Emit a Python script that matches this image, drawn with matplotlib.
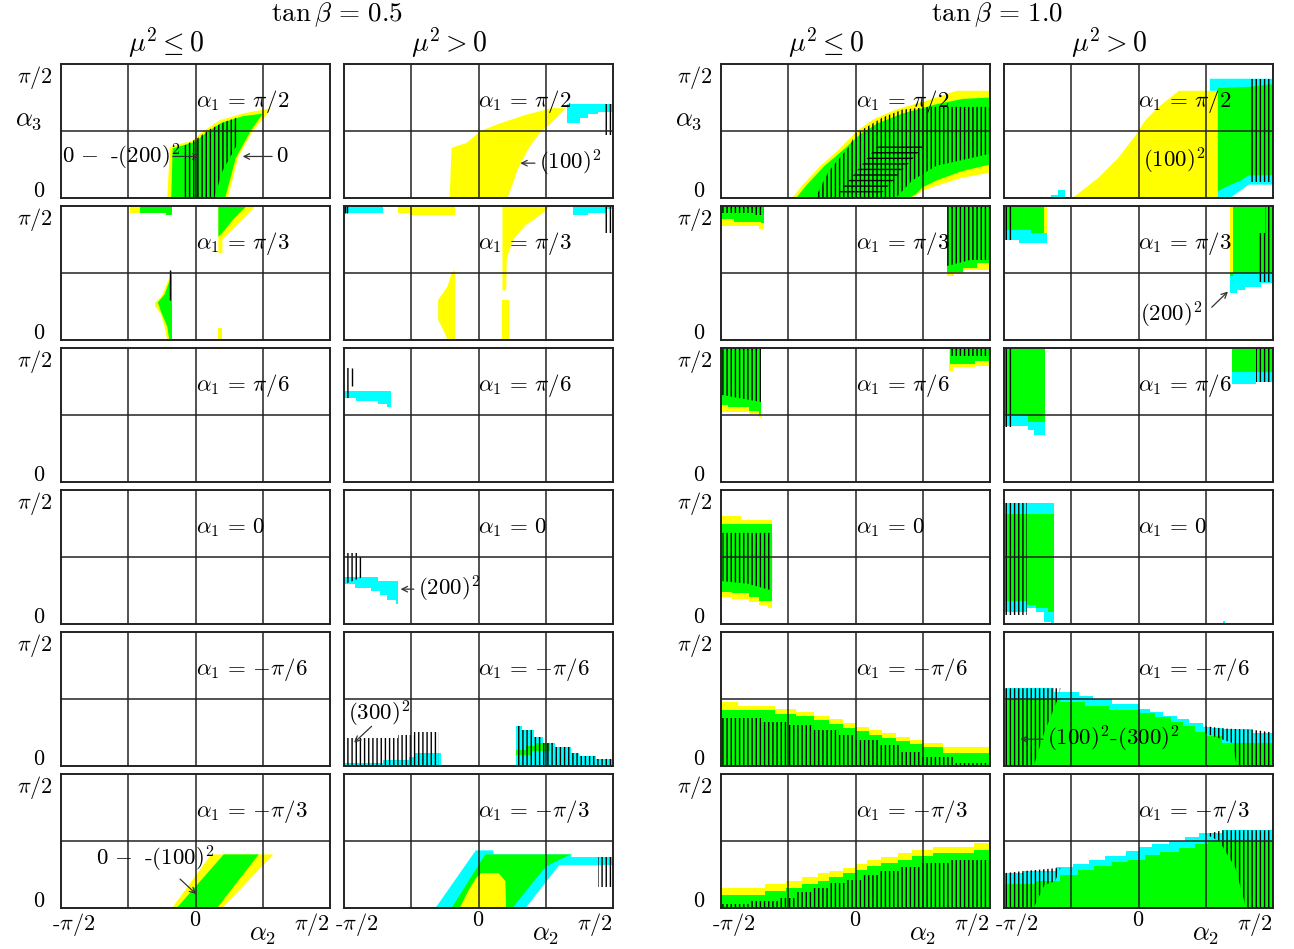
import matplotlib
matplotlib.use('Agg')
import matplotlib.pyplot as plt

plt.rcParams['mathtext.fontset'] = 'cm'
plt.rcParams['font.family'] = ['cmr10', 'DejaVu Serif']
plt.rcParams['axes.unicode_minus'] = False
plt.rcParams['hatch.linewidth'] = 1.0

YEL, GRN, CYA = '#ffff00', '#00ff00', '#00ffff'

# coordinates: u = alpha2/(pi/2) in [-1, 1], v = alpha3/(pi/2) in [0, 1]

# ---- tan beta = 0.5, mu^2 <= 0 ----
a05le_pi2_yel = [(-0.21, 0), (-0.19, 0.38), (-0.02, 0.43), (0.06, 0.5), (0.18, 0.58), (0.35, 0.63),
                 (0.56, 0.67), (0.52, 0.61), (0.425, 0.5), (0.32, 0.31), (0.24, 0.0)]
a05le_pi2_grn = [(-0.18, 0), (-0.17, 0.37), (0.0, 0.42), (0.07, 0.48), (0.19, 0.56), (0.35, 0.61),
                 (0.5, 0.63), (0.41, 0.5), (0.3, 0.3), (0.22, 0)]
a05le_pi2_hat = [(-0.1, 0), (-0.1, 0.38), (0.02, 0.45), (0.1, 0.51), (0.22, 0.57), (0.31, 0.6),
                 (0.31, 0.4), (0.2, 0.2), (0.14, 0)]

a05le_pi3_yel1 = [(-0.49, 1), (-0.49, 0.95), (-0.41, 0.95), (-0.41, 1)]
a05le_pi3_grn1 = [(-0.41, 1), (-0.41, 0.95), (-0.22, 0.95), (-0.22, 0.933), (-0.175, 0.933), (-0.175, 1)]
a05le_pi3_yel2 = [(0.17, 1), (0.446, 1), (0.35, 0.9), (0.25, 0.8), (0.2, 0.75), (0.2, 0.65), (0.17, 0.65)]
a05le_pi3_grn2 = [(0.17, 1), (0.38, 1), (0.28, 0.9), (0.2, 0.8), (0.17, 0.77)]
a05le_pi3_yel3 = [(-0.175, 0.52), (-0.2, 0.45), (-0.25, 0.33), (-0.3, 0.28), (-0.3, 0.25), (-0.26, 0.2),
                  (-0.23, 0.1), (-0.21, 0.0), (-0.175, 0)]
a05le_pi3_grn3 = [(-0.175, 0.52), (-0.185, 0.46), (-0.23, 0.34), (-0.28, 0.28), (-0.26, 0.22),
                  (-0.21, 0.1), (-0.195, 0), (-0.175, 0)]
a05le_pi3_yel4 = [(0.17, 0), (0.2, 0), (0.2, 0.09), (0.17, 0.09)]

a05le_mpi3_yel = [(-0.175, 0), (0.117, 0.4), (0.578, 0.4), (0.2, 0)]
a05le_mpi3_grn = [(-0.14, 0), (0.21, 0.4), (0.47, 0.4), (0.16, 0)]

# ---- tan beta = 0.5, mu^2 > 0 ----
a05gt_pi2_yel = [(-0.215, 0), (-0.2, 0.375), (-0.09, 0.41), (0.015, 0.5), (0.14, 0.55), (0.35, 0.62),
                 (0.54, 0.67), (0.65, 0.67), (0.54, 0.56), (0.46, 0.49), (0.385, 0.39), (0.34, 0.31),
                 (0.29, 0.21), (0.26, 0.12), (0.215, 0)]
a05gt_pi2_cya = [(0.66, 0.7), (1.0, 0.7), (1.0, 0.64), (0.89, 0.64), (0.89, 0.63), (0.815, 0.63),
                 (0.815, 0.6), (0.754, 0.6), (0.754, 0.56), (0.66, 0.56)]
a05gt_pi2_hat = [(0.94, 0.47), (0.94, 0.7), (1.0, 0.7), (1.0, 0.47)]

a05gt_pi3_cya1 = [(-1, 1), (-0.71, 1), (-0.71, 0.95), (-1, 0.95)]
a05gt_pi3_yel1 = [(-0.6, 1), (-0.6, 0.95), (-0.51, 0.95), (-0.51, 0.93), (-0.175, 0.93), (-0.175, 1)]
a05gt_pi3_yel2 = [(0.178, 1), (0.54, 1), (0.48, 0.95), (0.415, 0.9), (0.354, 0.86), (0.308, 0.81),
                  (0.26, 0.75), (0.23, 0.67), (0.21, 0.6), (0.206, 0.37), (0.178, 0.37)]
a05gt_pi3_yel3 = [(0.178, 0.3), (0.225, 0.3), (0.225, 0), (0.178, 0)]
a05gt_pi3_yel4 = [(-0.175, 0.52), (-0.2, 0.5), (-0.23, 0.4), (-0.3, 0.3), (-0.3, 0.15), (-0.25, 0.05),
                  (-0.23, 0), (-0.175, 0)]
a05gt_pi3_cya2 = [(0.70, 1), (0.70, 0.935), (0.815, 0.935), (0.815, 0.95), (0.954, 0.95), (0.954, 0.98),
                  (1, 0.98), (1, 1)]
a05gt_pi3_hat = [(0.94, 0.8), (0.94, 1), (1, 1), (1, 0.8)]

a05gt_pi6_cya = [(-1, 0.68), (-0.65, 0.68), (-0.65, 0.556), (-0.68, 0.556), (-0.68, 0.58), (-0.75, 0.58),
                 (-0.75, 0.605), (-0.91, 0.605), (-0.91, 0.626), (-1, 0.626)]
a05gt_pi6_hat = [(-0.995, 0.63), (-0.995, 0.85), (-0.95, 0.85), (-0.95, 0.63)]

a05gt_0_cya = [(-1, 0.35), (-0.75, 0.35), (-0.75, 0.32), (-0.6, 0.32), (-0.6, 0.15), (-0.615, 0.15),
               (-0.615, 0.18), (-0.68, 0.18), (-0.68, 0.22), (-0.73, 0.22), (-0.73, 0.25), (-0.8, 0.25),
               (-0.8, 0.27), (-0.92, 0.27), (-0.92, 0.30), (-1, 0.30)]
a05gt_0_hat = [(-0.995, 0.3), (-0.995, 0.53), (-0.9, 0.53), (-0.9, 0.5), (-0.86, 0.5), (-0.86, 0.35)]

a05gt_mpi6_cya1 = [(-1, 0), (-1, 0.02), (-0.71, 0.02), (-0.71, 0.045), (-0.52, 0.045), (-0.52, 0.07),
                   (-0.477, 0.07), (-0.477, 0.1), (-0.28, 0.1), (-0.28, 0)]
a05gt_mpi6_hat1 = [(-1, 0.0), (-1, 0.21), (-0.6, 0.21), (-0.6, 0.23), (-0.477, 0.23), (-0.477, 0.256),
                   (-0.29, 0.256), (-0.29, 0.0)]
a05gt_mpi6_cya2 = [(0.277, 0), (0.277, 0.3), (0.32, 0.3), (0.32, 0.27), (0.415, 0.27), (0.415, 0.22),
                   (0.477, 0.22), (0.477, 0.17), (0.57, 0.17), (0.57, 0.144), (0.69, 0.144), (0.69, 0.1),
                   (0.75, 0.1), (0.75, 0.075), (0.877, 0.075), (0.877, 0.05), (1, 0.05), (1, 0)]
a05gt_mpi6_grn2 = [(0.277, 0.08), (0.277, 0.12), (0.35, 0.12), (0.35, 0.15), (0.42, 0.15), (0.42, 0.17),
                   (0.53, 0.17), (0.53, 0.11), (0.4, 0.11), (0.4, 0.08)]

a05gt_mpi3_cya = [(-0.32, 0), (-0.02, 0.43), (0.11, 0.43), (0.11, 0.4), (0.69, 0.4), (0.69, 0.38),
                  (1.0, 0.38), (1.0, 0.32), (0.6, 0.32), (0.35, 0)]
a05gt_mpi3_grn = [(-0.2, 0), (0.05, 0.4), (0.69, 0.4), (0.6, 0.36), (0.5, 0.31), (0.25, 0)]
a05gt_mpi3_yel = [(-0.14, 0), (-0.07, 0.14), (-0.02, 0.22), (0.02, 0.26), (0.15, 0.26), (0.2, 0.2), (0.205, 0)]
a05gt_mpi3_hat = [(0.89, 0.16), (0.89, 0.38), (1, 0.38), (1, 0.16)]

# ---- tan beta = 1.0, mu^2 <= 0 ----
a10le_pi2_yel = [(-0.47, 0), (-0.4, 0.09), (-0.26, 0.24), (-0.125, 0.36), (0.01, 0.5), (0.13, 0.585),
                 (0.3, 0.66), (0.54, 0.73), (0.75, 0.8), (1.0, 0.80), (1, 0.19), (0.79, 0.15),
                 (0.6, 0.09), (0.5, 0.054), (0.42, 0)]
a10le_pi2_grn = [(-0.44, 0), (-0.37, 0.09), (-0.23, 0.24), (-0.09, 0.36), (0.04, 0.48), (0.17, 0.56),
                 (0.35, 0.63), (0.6, 0.7), (0.8, 0.74), (1, 0.75), (1, 0.25), (0.79, 0.2), (0.6, 0.13),
                 (0.5, 0.08), (0.45, 0.03), (0.4, 0)]
a10le_pi2_hat = [(-0.3, 0), (-0.2, 0.2), (-0.05, 0.38), (0.0, 0.48), (0.2, 0.6), (0.35, 0.66), (0.55, 0.68),
                 (1, 0.68), (1, 0.33), (0.6, 0.24), (0.42, 0.13), (0.3, 0)]
a10le_pi2_xhat = [(-0.14, 0.02), (0.18, 0.41), (0.53, 0.41), (0.18, 0.02)]

a10le_pi3_yel1 = [(-1, 1), (-0.68, 1), (-0.68, 0.83), (-0.72, 0.83), (-0.72, 0.85), (-1, 0.85)]
a10le_pi3_grn1 = [(-1, 1), (-0.68, 1), (-0.68, 0.87), (-0.70, 0.87), (-0.70, 0.88), (-0.9, 0.88),
                  (-0.9, 0.9), (-1, 0.9)]
a10le_pi3_hat1 = [(-0.99, 0.95), (-0.99, 1), (-0.68, 1), (-0.68, 0.93), (-0.75, 0.93), (-0.75, 0.95)]
a10le_pi3_yel2 = [(0.68, 1), (1, 1), (1, 0.52), (0.8, 0.52), (0.8, 0.5), (0.73, 0.5), (0.73, 0.475), (0.68, 0.475)]
a10le_pi3_grn2 = [(0.68, 1), (1, 1), (1, 0.575), (0.9, 0.575), (0.9, 0.54), (0.8, 0.54), (0.8, 0.51), (0.68, 0.51)]
a10le_pi3_hat2 = [(0.68, 0.55), (0.68, 1), (1, 1), (1, 0.6), (0.85, 0.6)]

a10le_pi6_yel1 = [(-1, 1), (-0.7, 1), (-0.7, 0.484), (-0.715, 0.484), (-0.715, 0.51), (-0.79, 0.51),
                  (-0.79, 0.525), (-1, 0.525)]
a10le_pi6_grn1 = [(-1, 1), (-0.7, 1), (-0.7, 0.51), (-0.715, 0.51), (-0.715, 0.53), (-0.79, 0.53),
                  (-0.79, 0.558), (-0.95, 0.558), (-0.95, 0.575), (-1, 0.575)]
a10le_pi6_hat1 = [(-0.99, 0.65), (-0.99, 1), (-0.7, 1), (-0.7, 0.6)]
a10le_pi6_yel2 = [(0.695, 1), (1, 1), (1, 0.865), (0.89, 0.865), (0.89, 0.855), (0.725, 0.855),
                  (0.725, 0.83), (0.695, 0.83)]
a10le_pi6_grn2 = [(0.7, 1), (1, 1), (1, 0.9), (0.89, 0.9), (0.89, 0.88), (0.7, 0.88)]
a10le_pi6_hat2 = [(0.7, 0.94), (0.7, 1), (1, 1), (1, 0.94)]

a10le_0_yel = [(-1, 0.806), (-0.85, 0.806), (-0.85, 0.776), (-0.62, 0.776), (-0.62, 0.122), (-0.65, 0.122),
               (-0.65, 0.142), (-0.72, 0.142), (-0.72, 0.167), (-0.79, 0.167), (-0.79, 0.19), (-0.92, 0.19),
               (-0.92, 0.2), (-1, 0.2)]
a10le_0_grn = [(-1, 0.75), (-0.62, 0.75), (-0.62, 0.174), (-0.72, 0.174), (-0.72, 0.204), (-0.79, 0.204),
               (-0.79, 0.229), (-0.92, 0.229), (-0.92, 0.24), (-1, 0.24)]
a10le_0_hat = [(-0.99, 0.32), (-0.99, 0.68), (-0.62, 0.68), (-0.62, 0.25), (-0.8, 0.3)]

# staircase boundaries (edges along alpha2, top value per interval)
a10le_mpi6_edges = [-1, -0.875, -0.6, -0.444, -0.307, -0.2, -0.094, 0, 0.103, 0.195, 0.3, 0.407, 0.5, 0.65, 1.0]
a10le_mpi6_yel = [0.48, 0.45, 0.425, 0.4, 0.373, 0.348, 0.318, 0.294, 0.27, 0.244, 0.22, 0.194, 0.17, 0.144]
a10le_mpi6_grn = [0.42, 0.42, 0.39, 0.37, 0.34, 0.31, 0.285, 0.26, 0.235, 0.21, 0.19, 0.165, 0.14, 0.1]
a10le_mpi6_hat_edges = [-1, -0.7, -0.5, -0.307, -0.125, 0, 0.18, 0.33, 0.48, 0.73, 1.0]
a10le_mpi6_hat = [0.356, 0.33, 0.306, 0.27, 0.23, 0.194, 0.157, 0.107, 0.07, 0.025]

a10le_mpi3_edges = [-1, -0.67, -0.52, -0.398, -0.277, -0.2, -0.094, 0, 0.088, 0.19, 0.316, 0.422, 0.574, 0.878, 1.0]
a10le_mpi3_yel = [0.147, 0.18, 0.2, 0.23, 0.26, 0.276, 0.3, 0.326, 0.358, 0.383, 0.408, 0.433, 0.458, 0.483]
a10le_mpi3_grn = [0.1, 0.127, 0.152, 0.177, 0.2, 0.23, 0.26, 0.28, 0.31, 0.335, 0.36, 0.385, 0.41, 0.433]
a10le_mpi3_hat_edges = [-1, -0.78, -0.57, -0.447, -0.325, -0.188, -0.067, 0.058, 0.18, 0.33, 0.48, 0.71, 1.0]
a10le_mpi3_hat = [0.027, 0.052, 0.077, 0.12, 0.15, 0.184, 0.21, 0.246, 0.276, 0.308, 0.333, 0.358]

# ---- tan beta = 1.0, mu^2 > 0 ----
a10gt_pi2_cya1 = [(-0.65, 0), (-0.65, 0.02), (-0.6, 0.02), (-0.6, 0.06), (-0.55, 0.06), (-0.55, 0)]
a10gt_pi2_yel = [(-0.49, 0), (-0.3, 0.15), (-0.15, 0.3), (-0.02, 0.47), (0.05, 0.58), (0.15, 0.68),
                 (0.3, 0.8), (0.59, 0.8), (0.59, 0)]
a10gt_pi2_cya2 = [(0.53, 0.89), (1.0, 0.89), (1.0, 0.1), (0.82, 0.1), (0.75, 0.05), (0.68, 0.0), (0.59, 0),
                  (0.59, 0.8), (0.53, 0.8)]
a10gt_pi2_grn = [(0.59, 0.82), (0.83, 0.83), (1.0, 0.85), (1.0, 0.17), (0.82, 0.17), (0.76, 0.13),
                 (0.64, 0.08), (0.59, 0.05)]
a10gt_pi2_hat = [(0.83, 0.12), (0.83, 0.89), (1, 0.89), (1, 0.12)]

a10gt_pi3_cya1 = [(-1, 1), (-0.68, 1), (-0.68, 0.727), (-0.885, 0.727), (-0.885, 0.75), (-1, 0.75)]
a10gt_pi3_grn1 = [(-1, 1), (-0.68, 1), (-0.68, 0.8), (-0.8, 0.8), (-0.8, 0.82), (-1, 0.82)]
a10gt_pi3_yel1 = [(-0.70, 1), (-0.68, 1), (-0.68, 0.8), (-0.70, 0.8)]
a10gt_pi3_hat1 = [(-1, 0.75), (-1, 1), (-0.93, 1), (-0.93, 0.75)]
a10gt_pi3_cya2 = [(0.68, 0.5), (1, 0.5), (1, 0.426), (0.91, 0.426), (0.91, 0.396), (0.79, 0.396),
                  (0.79, 0.37), (0.73, 0.37), (0.73, 0.35), (0.68, 0.35)]
a10gt_pi3_grn2 = [(0.70, 1), (1, 1), (1, 0.5), (0.68, 0.5), (0.68, 0.48), (0.70, 0.48)]
a10gt_pi3_yel2 = [(0.68, 1), (0.70, 1), (0.70, 0.5), (0.68, 0.5)]
a10gt_pi3_hat2 = [(0.88, 0.43), (0.88, 0.8), (0.94, 0.8), (0.94, 1), (1, 1), (1, 0.43)]

a10gt_pi6_cya1 = [(-1, 0.53), (-0.696, 0.53), (-0.696, 0.353), (-0.78, 0.353), (-0.78, 0.39), (-0.82, 0.39),
                  (-0.82, 0.415), (-1, 0.415)]
a10gt_pi6_grn1 = [(-1, 1), (-0.696, 1), (-0.696, 0.45), (-0.82, 0.45), (-0.82, 0.5), (-1, 0.5)]
a10gt_pi6_hat1 = [(-1, 0.41), (-1, 1), (-0.93, 1), (-0.93, 0.41)]
a10gt_pi6_cya2 = [(0.696, 0.83), (1, 0.83), (1, 0.748), (0.87, 0.748), (0.87, 0.735), (0.696, 0.735)]
a10gt_pi6_grn2 = [(0.696, 1), (1, 1), (1, 0.82), (0.696, 0.82)]
a10gt_pi6_hat2 = [(0.87, 0.75), (0.87, 1), (1, 1), (1, 0.75)]

a10gt_0_cya = [(-1, 0.905), (-0.626, 0.905), (-0.626, 0), (-0.65, 0), (-0.65, 0.017), (-0.7, 0.017),
               (-0.7, 0.092), (-0.76, 0.092), (-0.76, 0.117), (-0.83, 0.117), (-0.83, 0.09), (-1, 0.09)]
a10gt_0_grn = [(-1, 0.82), (-0.626, 0.82), (-0.626, 0.092), (-0.67, 0.092), (-0.67, 0.117), (-0.76, 0.117),
               (-0.76, 0.142), (-0.83, 0.142), (-0.83, 0.174), (-1, 0.174)]
a10gt_0_hat = [(-1, 0.07), (-1, 0.905), (-0.83, 0.905), (-0.83, 0.07)]
a10gt_0_cya2 = [(0.625, 0), (0.645, 0), (0.645, 0.02), (0.625, 0.02)]

a10gt_mpi6_cya_edges = [-1, -0.626, -0.444, -0.337, -0.2, 0, 0.088, 0.18, 0.286, 0.377, 0.483, 0.544, 0.635, 0.848, 1.0]
a10gt_mpi6_cya = [0.58, 0.555, 0.522, 0.497, 0.463, 0.423, 0.4, 0.373, 0.348, 0.318, 0.294, 0.28, 0.274, 0.25]
a10gt_mpi6_grn_edges = [-1, -0.58, -0.4, -0.22, 0, 0.12, 0.24, 0.33, 0.42, 0.51, 0.62, 1.0]
a10gt_mpi6_grn = [0.5, 0.48, 0.448, 0.42, 0.393, 0.363, 0.33, 0.3, 0.256, 0.224, 0.17]
a10gt_mpi6_hat1 = [(-1, 0), (-1, 0.58), (-0.58, 0.58), (-0.6, 0.5), (-0.7, 0.25), (-0.78, 0)]
a10gt_mpi6_hat2 = [(0.48, 0.3), (0.63, 0.28), (0.85, 0.27), (1, 0.25), (1, 0), (0.73, 0), (0.7, 0.17), (0.48, 0.25)]

a10gt_mpi3_cya_edges = [-1, -0.854, -0.611, -0.49, -0.368, -0.246, -0.094, 0, 0.103, 0.225, 0.347, 0.453, 0.62, 1.0]
a10gt_mpi3_cya = [0.26, 0.276, 0.308, 0.328, 0.358, 0.39, 0.425, 0.458, 0.478, 0.5, 0.532, 0.557, 0.582]
a10gt_mpi3_grn_edges = [-1, -0.76, -0.58, -0.45, -0.33, -0.2, -0.08, 0.05, 0.16, 0.3, 0.42, 0.52, 0.62, 1.0]
a10gt_mpi3_grn = [0.177, 0.2, 0.245, 0.28, 0.31, 0.34, 0.36, 0.395, 0.42, 0.45, 0.475, 0.49, 0.5]
a10gt_mpi3_hat1 = [(-1, 0), (-1, 0.26), (-0.854, 0.276), (-0.58, 0.3), (-0.62, 0.2), (-0.7, 0.17), (-0.78, 0)]
a10gt_mpi3_hat2 = [(0.5, 0.55), (0.62, 0.58), (1, 0.58), (1, 0), (0.8, 0), (0.72, 0.3), (0.6, 0.5)]

# single hatch strokes: (alpha2, bottom, top)
a05le_pi3_lines = [(-0.19, 0.3, 0.52)]
a05gt_pi3_lines = [(-0.99, 0.95, 1.0), (-0.975, 0.95, 1.0)]
a05gt_pi6_lines = [(-0.94, 0.72, 0.85)]

alpha1_labels = [r'$\alpha_1\,=\,\pi/2$', r'$\alpha_1\,=\,\pi/3$', r'$\alpha_1\,=\,\pi/6$',
                 r'$\alpha_1\,=\,0$', r'$\alpha_1\,=\,{-}\pi/6$', r'$\alpha_1\,=\,{-}\pi/3$']
col_headers = [r'$\mu^2\leq 0$', r'$\mu^2>0$', r'$\mu^2\leq 0$', r'$\mu^2>0$']
group_titles = [r'$\tan\beta\,=\,0.5$', r'$\tan\beta\,=\,1.0$']

# layers per panel (row, col): ('p', polygon, colour) / ('h', polygon, pattern) / ('s', edges, tops, colour)
# / ('sh', edges, tops) / ('l', strokes)
panels = {
    (0, 0): [('p', a05le_pi2_yel, YEL), ('p', a05le_pi2_grn, GRN), ('h', a05le_pi2_hat, '||||')],
    (1, 0): [('p', a05le_pi3_yel1, YEL), ('p', a05le_pi3_grn1, GRN), ('p', a05le_pi3_yel2, YEL),
             ('p', a05le_pi3_grn2, GRN), ('p', a05le_pi3_yel3, YEL), ('p', a05le_pi3_grn3, GRN),
             ('p', a05le_pi3_yel4, YEL), ('l', a05le_pi3_lines)],
    (5, 0): [('p', a05le_mpi3_yel, YEL), ('p', a05le_mpi3_grn, GRN)],
    (0, 1): [('p', a05gt_pi2_yel, YEL), ('p', a05gt_pi2_cya, CYA), ('h', a05gt_pi2_hat, '||||')],
    (1, 1): [('p', a05gt_pi3_cya1, CYA), ('p', a05gt_pi3_yel1, YEL), ('p', a05gt_pi3_yel2, YEL),
             ('p', a05gt_pi3_yel3, YEL), ('p', a05gt_pi3_yel4, YEL), ('p', a05gt_pi3_cya2, CYA),
             ('h', a05gt_pi3_hat, '||||'), ('l', a05gt_pi3_lines)],
    (2, 1): [('p', a05gt_pi6_cya, CYA), ('h', a05gt_pi6_hat, '||||'), ('l', a05gt_pi6_lines)],
    (3, 1): [('p', a05gt_0_cya, CYA), ('h', a05gt_0_hat, '||||')],
    (4, 1): [('p', a05gt_mpi6_cya1, CYA), ('h', a05gt_mpi6_hat1, '||||'), ('p', a05gt_mpi6_cya2, CYA),
             ('p', a05gt_mpi6_grn2, GRN), ('h', a05gt_mpi6_cya2, '||||')],
    (5, 1): [('p', a05gt_mpi3_cya, CYA), ('p', a05gt_mpi3_grn, GRN), ('p', a05gt_mpi3_yel, YEL),
             ('h', a05gt_mpi3_hat, '||||')],
    (0, 2): [('p', a10le_pi2_yel, YEL), ('p', a10le_pi2_grn, GRN), ('h', a10le_pi2_hat, '||||'),
             ('h', a10le_pi2_xhat, '---')],
    (1, 2): [('p', a10le_pi3_yel1, YEL), ('p', a10le_pi3_grn1, GRN), ('h', a10le_pi3_hat1, '||||'),
             ('p', a10le_pi3_yel2, YEL), ('p', a10le_pi3_grn2, GRN), ('h', a10le_pi3_hat2, '||||')],
    (2, 2): [('p', a10le_pi6_yel1, YEL), ('p', a10le_pi6_grn1, GRN), ('h', a10le_pi6_hat1, '||||'),
             ('p', a10le_pi6_yel2, YEL), ('p', a10le_pi6_grn2, GRN), ('h', a10le_pi6_hat2, '||||')],
    (3, 2): [('p', a10le_0_yel, YEL), ('p', a10le_0_grn, GRN), ('h', a10le_0_hat, '||||')],
    (4, 2): [('s', a10le_mpi6_edges, a10le_mpi6_yel, YEL), ('s', a10le_mpi6_edges, a10le_mpi6_grn, GRN),
             ('sh', a10le_mpi6_hat_edges, a10le_mpi6_hat)],
    (5, 2): [('s', a10le_mpi3_edges, a10le_mpi3_yel, YEL), ('s', a10le_mpi3_edges, a10le_mpi3_grn, GRN),
             ('sh', a10le_mpi3_hat_edges, a10le_mpi3_hat)],
    (0, 3): [('p', a10gt_pi2_cya1, CYA), ('p', a10gt_pi2_yel, YEL), ('p', a10gt_pi2_cya2, CYA),
             ('p', a10gt_pi2_grn, GRN), ('h', a10gt_pi2_hat, '||||')],
    (1, 3): [('p', a10gt_pi3_cya1, CYA), ('p', a10gt_pi3_grn1, GRN), ('p', a10gt_pi3_yel1, YEL),
             ('h', a10gt_pi3_hat1, '||||'), ('p', a10gt_pi3_cya2, CYA), ('p', a10gt_pi3_grn2, GRN),
             ('p', a10gt_pi3_yel2, YEL), ('h', a10gt_pi3_hat2, '||||')],
    (2, 3): [('p', a10gt_pi6_cya1, CYA), ('p', a10gt_pi6_grn1, GRN), ('h', a10gt_pi6_hat1, '||||'),
             ('p', a10gt_pi6_cya2, CYA), ('p', a10gt_pi6_grn2, GRN), ('h', a10gt_pi6_hat2, '||||')],
    (3, 3): [('p', a10gt_0_cya, CYA), ('p', a10gt_0_grn, GRN), ('h', a10gt_0_hat, '||||'),
             ('p', a10gt_0_cya2, CYA)],
    (4, 3): [('s', a10gt_mpi6_cya_edges, a10gt_mpi6_cya, CYA), ('s', a10gt_mpi6_grn_edges, a10gt_mpi6_grn, GRN),
             ('h', a10gt_mpi6_hat1, '||||'), ('h', a10gt_mpi6_hat2, '||||')],
    (5, 3): [('s', a10gt_mpi3_cya_edges, a10gt_mpi3_cya, CYA), ('s', a10gt_mpi3_grn_edges, a10gt_mpi3_grn, GRN),
             ('h', a10gt_mpi3_hat1, '||||'), ('h', a10gt_mpi3_hat2, '||||')],
}

# annotations: (row, col, text, text_xy, arrow_tail, arrow_head)
notes = [
    (0, 0, r'$0\,-$ -$(200)^2$', (-0.99, 0.31), (-0.19, 0.31), (0.05, 0.31)),
    (0, 0, r'$0$', (0.6, 0.31), (0.59, 0.31), (0.33, 0.31)),
    (0, 1, r'$(100)^2$', (0.45, 0.26), (0.44, 0.26), (0.29, 0.26)),
    (3, 1, r'$(200)^2$', (-0.45, 0.26), (-0.46, 0.26), (-0.6, 0.26)),
    (4, 1, r'$(300)^2$', (-0.97, 0.39), (-0.78, 0.31), (-0.94, 0.16)),
    (5, 0, r'$0\,-$ -$(100)^2$', (-0.74, 0.37), (-0.13, 0.23), (0.02, 0.09)),
    (0, 3, r'$(100)^2$', (0.03, 0.28), None, None),
    (1, 3, r'$(200)^2$', (0.01, 0.19), (0.53, 0.23), (0.68, 0.376)),
    (4, 3, r'$(100)^2$-$(300)^2$', (-0.68, 0.2), (-0.69, 0.2), (-0.9, 0.2)),
]

W, H = 1294, 949
col_x = [61, 344, 721, 1004]
fig = plt.figure(figsize=(W / 100, H / 100), dpi=100)

axes = {}
for r in range(6):
    for c in range(4):
        top = 64 + 142 * r
        ax = fig.add_axes([col_x[c] / W, 1 - (top + 134) / H, 269 / W, 134 / H])
        ax.set_xlim(-1, 1)
        ax.set_ylim(0, 1)
        ax.set_xticks([])
        ax.set_yticks([])
        for s in ax.spines.values():
            s.set_linewidth(1.4)
            s.set_color('#222222')
        for x in (-0.5, 0, 0.5):
            ax.axvline(x, color='#222222', lw=1.1, zorder=3)
        ax.axhline(0.5, color='#222222', lw=1.1, zorder=3)
        ax.text(0.0, 0.72, alpha1_labels[r], fontsize=16.5, ha='left', va='center', zorder=5)
        axes[(r, c)] = ax

for key, layers in panels.items():
    ax = axes[key]
    for layer in layers:
        kind = layer[0]
        if kind == 'p':
            xs, ys = zip(*layer[1])
            ax.fill(xs, ys, color=layer[2], lw=0, zorder=1)
        elif kind == 'h':
            xs, ys = zip(*layer[1])
            ax.fill(xs, ys, facecolor='none', edgecolor='black', hatch=layer[2], lw=0, zorder=2)
        elif kind == 's':
            ax.fill_between(layer[1], 0, list(layer[2]) + [layer[2][-1]], step='post',
                            color=layer[3], lw=0, zorder=1)
        elif kind == 'sh':
            ax.fill_between(layer[1], 0, list(layer[2]) + [layer[2][-1]], step='post',
                            facecolor='none', edgecolor='black', hatch='||||', lw=0, zorder=2)
        elif kind == 'l':
            for x, lo, hi in layer[1]:
                ax.vlines(x, lo, hi, color='black', lw=1.0, zorder=2)

for r, c, txt, txy, tail, head in notes:
    ax = axes[(r, c)]
    ax.text(txy[0], txy[1], txt, fontsize=16.5, ha='left', va='center', zorder=5)
    if tail is not None:
        ax.annotate('', xy=head, xytext=tail,
                    arrowprops=dict(arrowstyle='->', color='#333333', lw=0.9), zorder=5)

# axis texts
for c in (0, 2):
    for r in range(6):
        ax = axes[(r, c)]
        ax.text(-1.06, 1.0, r'$\pi/2$', fontsize=16, ha='right', va='top')
        ax.text(-1.16, -0.02, r'$0$', fontsize=16, ha='center', va='bottom')
    axes[(0, c)].text(-1.24, 0.58, r'$\alpha_3$', fontsize=19, ha='center', va='center')
for c in range(4):
    ax = axes[(5, c)]
    ax.text(-1.07, -0.02, r'-$\pi/2$', fontsize=16, ha='left', va='top')
    ax.text(0.0, -0.02, r'$0$', fontsize=16, ha='center', va='top')
    ax.text(1.0, -0.02, r'$\pi/2$', fontsize=16, ha='right', va='top')
    ax.text(0.5, -0.2, r'$\alpha_2$', fontsize=19, ha='center', va='center')
    axes[(0, c)].text(-0.22, 1.16, col_headers[c], fontsize=20, ha='center', va='center')

fig.text(337 / W, 1 - 15 / H, group_titles[0], fontsize=19.5, ha='center', va='center')
fig.text(997 / W, 1 - 15 / H, group_titles[1], fontsize=19.5, ha='center', va='center')

fig.savefig('out.png', dpi=100)
